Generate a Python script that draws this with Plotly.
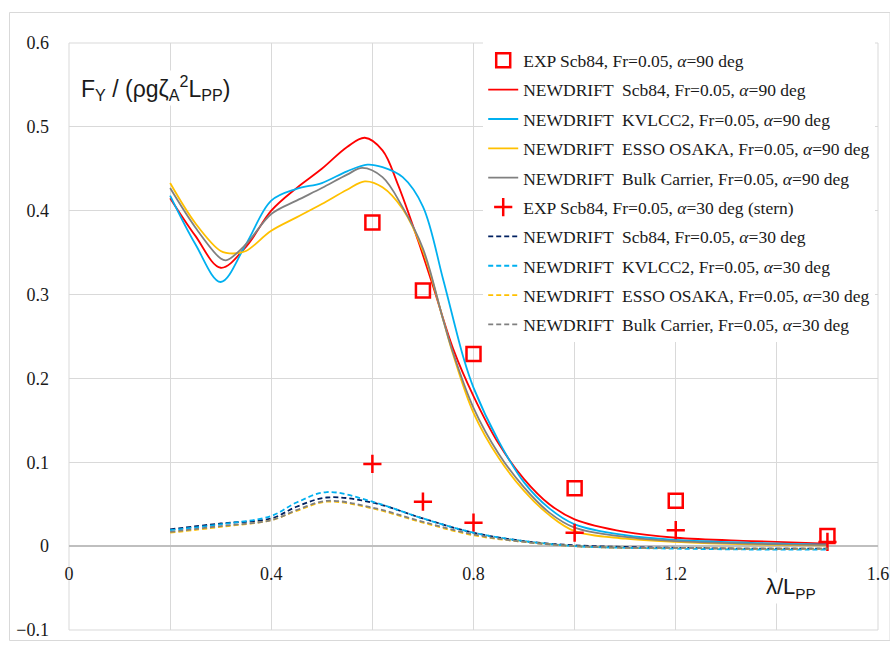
import plotly.graph_objects as go

# ---------------- data ----------------
# alpha = 90 deg, experiments (Scb84)
exp90_x = [0.6, 0.7, 0.8, 1.0, 1.2, 1.5]
exp90_y = [0.386, 0.305, 0.229, 0.069, 0.054, 0.012]

# alpha = 30 deg (stern), experiments (Scb84)
exp30_x = [0.6, 0.7, 0.8, 1.0, 1.2, 1.5]
exp30_y = [0.098, 0.053, 0.028, 0.016, 0.019, 0.005]

# NEWDRIFT alpha = 90 deg
scb84_90_x = [0.2, 0.25, 0.3, 0.35, 0.4, 0.45, 0.5, 0.55, 0.585, 0.62, 0.65, 0.69, 0.72, 0.76, 0.8, 0.85, 0.9, 0.95, 1.0, 1.1, 1.2, 1.35, 1.5]
scb84_90_y = [0.415, 0.37, 0.332, 0.357, 0.400, 0.427, 0.450, 0.476, 0.487, 0.472, 0.432, 0.365, 0.31, 0.235, 0.179, 0.122, 0.080, 0.050, 0.032, 0.017, 0.010, 0.006, 0.003]

kvlcc2_90_x = [0.2, 0.25, 0.3, 0.35, 0.4, 0.45, 0.5, 0.55, 0.59, 0.62, 0.66, 0.7, 0.74, 0.78, 0.8, 0.85, 0.9, 0.95, 1.0, 1.1, 1.2, 1.35, 1.5]
kvlcc2_90_y = [0.418, 0.36, 0.315, 0.36, 0.412, 0.426, 0.433, 0.447, 0.455, 0.452, 0.440, 0.405, 0.318, 0.225, 0.189, 0.125, 0.076, 0.045, 0.026, 0.013, 0.0075, 0.004, 0.002]

esso_90_x = [0.2, 0.25, 0.3, 0.325, 0.35, 0.4, 0.45, 0.5, 0.55, 0.585, 0.62, 0.66, 0.7, 0.74, 0.76, 0.8, 0.85, 0.9, 0.95, 1.0, 1.1, 1.2, 1.35, 1.5]
esso_90_y = [0.433, 0.385, 0.352, 0.349, 0.352, 0.376, 0.392, 0.408, 0.425, 0.435, 0.428, 0.402, 0.352, 0.27, 0.228, 0.159, 0.105, 0.066, 0.037, 0.018, 0.009, 0.005, 0.002, 0.001]

bulk_90_x = [0.2, 0.25, 0.3, 0.312, 0.35, 0.4, 0.45, 0.5, 0.55, 0.58, 0.62, 0.66, 0.7, 0.74, 0.76, 0.8, 0.85, 0.9, 0.95, 1.0, 1.1, 1.2, 1.35, 1.5]
bulk_90_y = [0.427, 0.38, 0.343, 0.341, 0.36, 0.396, 0.412, 0.427, 0.443, 0.451, 0.440, 0.404, 0.355, 0.27, 0.23, 0.165, 0.11, 0.070, 0.040, 0.022, 0.011, 0.006, 0.003, 0.0015]

# NEWDRIFT alpha = 30 deg
x30 = [0.2, 0.3, 0.4, 0.45, 0.51, 0.6, 0.7, 0.8, 0.9, 1.0, 1.1, 1.2, 1.35, 1.5]
scb84_30_y = [0.020, 0.027, 0.033, 0.047, 0.058, 0.052, 0.033, 0.016, 0.006, 0.001, -0.001, -0.002, -0.003, -0.003]
kvlcc2_30_y = [0.019, 0.026, 0.036, 0.052, 0.0645, 0.053, 0.033, 0.016, 0.006, 0.000, -0.002, -0.003, -0.004, -0.004]
esso_30_y = [0.016, 0.023, 0.031, 0.042, 0.053, 0.045, 0.028, 0.013, 0.005, 0.000, -0.002, -0.002, -0.003, -0.003]
bulk_30_y = [0.017, 0.024, 0.031, 0.043, 0.054, 0.046, 0.029, 0.014, 0.005, 0.000, -0.002, -0.002, -0.003, -0.003]

x_tickvals = [0, 0.4, 0.8, 1.2, 1.6]
x_ticktext = ["0", "0.4", "0.8", "1.2", "1.6"]
y_tickvals = [-0.1, 0, 0.1, 0.2, 0.3, 0.4, 0.5, 0.6]
y_ticktext = ["\u22120.1", "0", "0.1", "0.2", "0.3", "0.4", "0.5", "0.6"]

# ---------------- styles ----------------
RED = "#ff0000"
BLUE = "#00b0f0"
YEL = "#ffc000"
GRAY = "#808080"
NAVY = "#002060"
GRID = "#d9d9d9"
SERIF = "Liberation Serif, Times New Roman, serif"
DASH = "5px,3px"
A = "<i>\u03b1</i>"

fig = go.Figure()

fig.add_trace(go.Scatter(x=exp90_x, y=exp90_y, mode="markers",
                         name=f"EXP Scb84, Fr=0.05, {A}=90 deg", legendgroup="g1",
                         marker=dict(symbol="square-open", size=14, color=RED, line=dict(width=2.5, color=RED))))
curves90 = [
    (scb84_90_x, scb84_90_y, RED, "Scb84"),
    (kvlcc2_90_x, kvlcc2_90_y, BLUE, "KVLCC2"),
    (esso_90_x, esso_90_y, YEL, "ESSO OSAKA"),
    (bulk_90_x, bulk_90_y, GRAY, "Bulk Carrier"),
]
for i, (xs, ys, c, nm) in enumerate(curves90):
    fig.add_trace(go.Scatter(x=xs, y=ys, mode="lines", line=dict(color=c, width=1.8, shape="spline", smoothing=1.0),
                             name=f"NEWDRIFT  {nm}, Fr=0.05, {A}=90 deg", legendgroup=f"g9{i}"))

fig.add_trace(go.Scatter(x=exp30_x, y=exp30_y, mode="markers",
                         name=f"EXP Scb84, Fr=0.05, {A}=30 deg (stern)", legendgroup="g2",
                         marker=dict(symbol="cross-thin", size=13, color=RED, line=dict(width=2.5, color=RED))))
curves30 = [
    (scb84_30_y, NAVY, "Scb84"),
    (kvlcc2_30_y, BLUE, "KVLCC2"),
    (esso_30_y, YEL, "ESSO OSAKA"),
    (bulk_30_y, GRAY, "Bulk Carrier"),
]
for i, (ys, c, nm) in enumerate(curves30):
    fig.add_trace(go.Scatter(x=x30, y=ys, mode="lines", line=dict(color=c, width=1.8, dash=DASH, shape="spline", smoothing=1.0),
                             name=f"NEWDRIFT  {nm}, Fr=0.05, {A}=30 deg", legendgroup=f"g3{i}"))

fig.update_layout(
    width=890, height=646,
    margin=dict(l=69, r=12, t=43, b=16, autoexpand=False),
    paper_bgcolor="white", plot_bgcolor="white",
    font=dict(family=SERIF, size=17, color="#1a1a1a"),
    showlegend=True,
    legend=dict(x=0.512, y=1.001, xanchor="left", yanchor="top", bgcolor="white",
                font=dict(family=SERIF, size=17.5, color="#1a1a1a"),
                tracegroupgap=3.6, traceorder="grouped", itemwidth=30),
    xaxis=dict(range=[0, 1.6], tickvals=x_tickvals, ticktext=x_ticktext, showgrid=True, gridcolor=GRID, gridwidth=1,
               minor=dict(tickmode="linear", tick0=0, dtick=0.2, showgrid=True, gridcolor=GRID, gridwidth=1, ticks=""),
               zeroline=False, showline=False, ticks="", anchor="free", position=1/7,
               tickfont=dict(family=SERIF, size=18, color="#1a1a1a"), ticklabelstandoff=15),
    yaxis=dict(range=[-0.1, 0.6], tickvals=y_tickvals, ticktext=y_ticktext, showgrid=True, gridcolor=GRID, gridwidth=1,
               zeroline=True, zerolinecolor="#bfbfbf", zerolinewidth=1.5, showline=False, ticks="",
               tickfont=dict(family=SERIF, size=18, color="#1a1a1a"), ticklabelstandoff=19),
    shapes=[
        dict(type="rect", xref="paper", yref="paper", x0=0, x1=1, y0=0, y1=1,
             line=dict(color=GRID, width=1), layer="below"),
        dict(type="rect", xref="paper", yref="paper", x0=-59.5/809, x1=1 + 12/809, y0=-10.5/587, y1=1 + 30.5/587,
             line=dict(color=GRID, width=1), layer="below"),
    ],
    annotations=[
        dict(text="F<sub>Y</sub> / (\u03c1g\u03b6<sub>A</sub><sup>2</sup>L<sub>PP</sub>)", xref="paper", yref="paper",
             x=10/809, y=(630 - 88)/587, xanchor="left", yanchor="middle", showarrow=False,
             font=dict(family="Liberation Sans", size=23, color="#1a1a1a"), bgcolor="white"),
        dict(text="\u03bb/L<sub>PP</sub>", xref="paper", yref="paper",
             x=(791 - 69)/809, y=(630 - 588)/587, xanchor="center", yanchor="middle", showarrow=False,
             font=dict(family="Liberation Sans", size=22, color="#1a1a1a"), bgcolor="white"),
    ],
)

fig.write_html("out.html")
